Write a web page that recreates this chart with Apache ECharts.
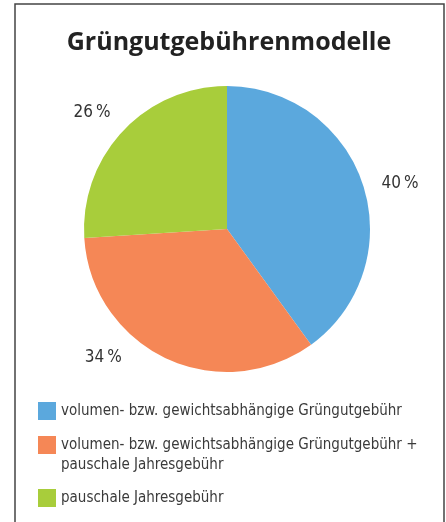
<!DOCTYPE html>
<html>
<head>
<meta charset="utf-8">
<script src="https://cdn.jsdelivr.net/npm/echarts@6/dist/echarts.min.js"></script>
<style>
  html, body { margin: 0; padding: 0; background: #fff; }
  #chart { width: 446px; height: 522px; }
</style>
</head>
<body>
<div id="chart"></div>
<script>
const titleText = 'Grüngutgebührenmodelle'
const categories = [
  'volumen- bzw. gewichtsabhängige Grüngutgebühr',
  'volumen- bzw. gewichtsabhängige Grüngutgebühr + pauschale Jahresgebühr',
  'pauschale Jahresgebühr'
]
const shares = [40, 34, 26]

const colorList = ['#5ba8dd', '#f58756', '#a8cd3b']
const labelNudge = [[-6, 2], [-25, -10], [10, -12]]
const legendTops = [401, 415, 488]

const textFont = '"DejaVu Sans Condensed", sans-serif'

const chart = echarts.init(document.getElementById('chart'))

// a wrapped legend entry gets an empty first line so the square sits beside its first line
const wrapLegend = n => n.includes('+ ') ? '\n' + n.replace('+ ', '+\n') : n

const option = {
  animation: false,
  title: {
    text: titleText,
    left: 224,
    top: 25,
    textAlign: 'center',
    textStyle: {
      fontFamily: '"Open Sans", sans-serif',
      fontWeight: 'bold',
      fontSize: 25,
      color: '#222'
    }
  },
  graphic: [
    {
      type: 'rect',
      shape: { x: 15, y: 4, width: 429, height: 540 },
      style: { fill: 'none', stroke: '#444', lineWidth: 1.5 }
    }
  ],
  legend: categories.map((name, i) => ({
    orient: 'vertical',
    left: 38,
    top: legendTops[i],
    padding: 0,
    itemWidth: 18,
    itemHeight: 18,
    icon: 'rect',
    selectedMode: false,
    data: [name],
    formatter: wrapLegend,
    textStyle: {
      fontFamily: textFont,
      fontSize: 15,
      lineHeight: 20,
      color: '#3a3a3a'
    }
  })),
  series: [
    {
      name: 'Modelle',
      type: 'pie',
      radius: 143,
      center: [227, 229],
      startAngle: 90,
      clockwise: true,
      label: {
        position: 'outside',
        formatter: '{c}\u2009%',
        fontFamily: textFont,
        fontSize: 17,
        color: '#333'
      },
      labelLine: { show: false, length: 10, length2: 10 },
      labelLayout: p => ({ dx: labelNudge[p.dataIndex][0], dy: labelNudge[p.dataIndex][1] }),
      emphasis: { disabled: true },
      data: categories.map((name, i) => ({
        name,
        value: shares[i],
        itemStyle: { color: colorList[i] }
      }))
    }
  ]
}

chart.setOption(option)
</script>
</body>
</html>
